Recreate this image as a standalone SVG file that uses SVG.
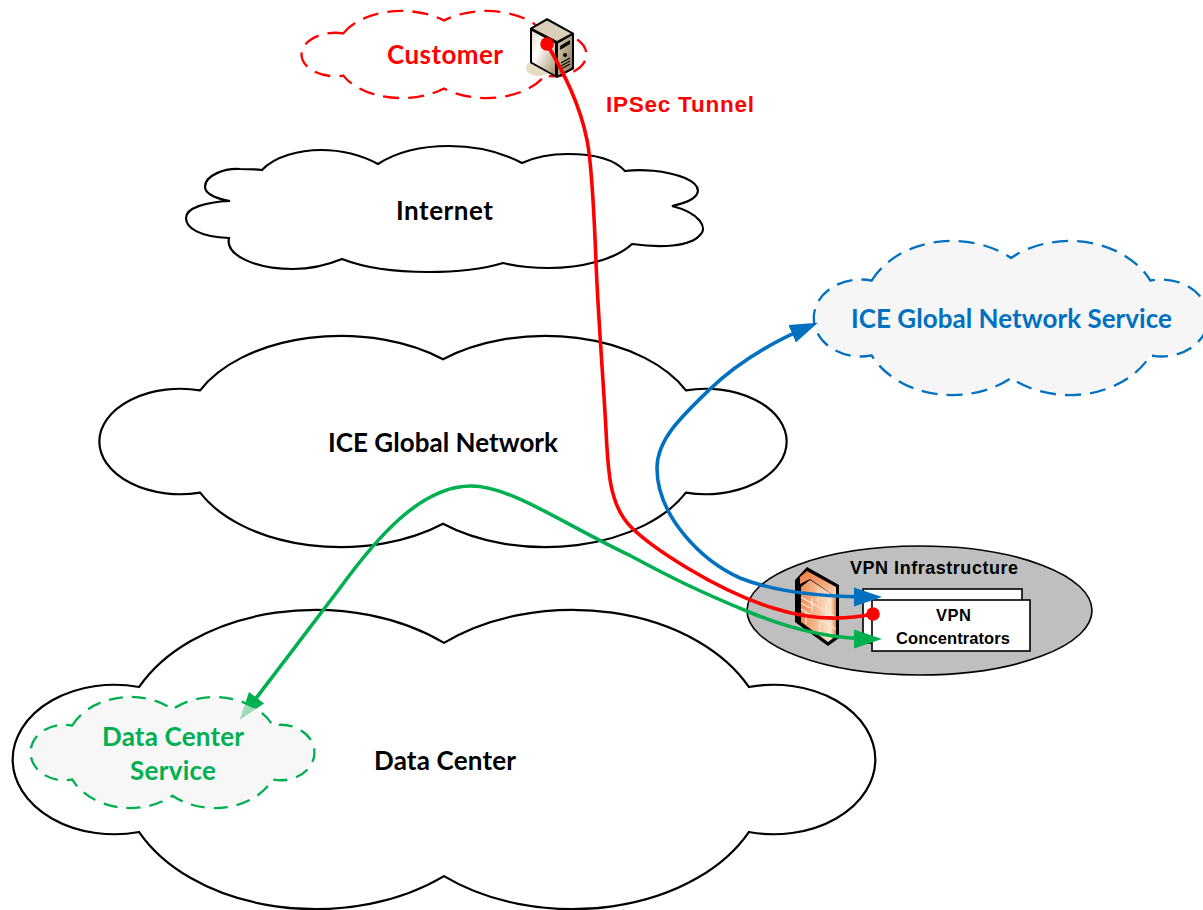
<svg xmlns="http://www.w3.org/2000/svg" xmlns:xlink="http://www.w3.org/1999/xlink" width="1203" height="910" viewBox="0 0 1203 910">
<style>
.shape{vector-effect:non-scaling-stroke;stroke-linejoin:miter}
.solid{fill:#fff;stroke:#000;stroke-width:2.2}
.t{font-family:"Lato","Carlito","Liberation Sans",sans-serif;font-weight:700;text-anchor:middle;font-size:26px}
.a{font-family:"Liberation Sans",Arial,sans-serif;font-weight:700;text-anchor:middle}
.cn{fill:none;stroke-width:3.6}
.box{fill:#fff;stroke:#000;stroke-width:1.6}
</style>
<defs>
<path id="cloud" class="shape" d="M-.704 -.485A.451 .9 0 0 1 0 -.78A.451 .9 0 0 1 .704 -.485A.235 .5 0 1 1 .704 .485A.451 .9 0 0 1 0 .78A.451 .9 0 0 1 -.704 .485A.235 .5 0 1 1 -.704 -.485Z"/>
<marker id="hb" markerUnits="userSpaceOnUse" markerWidth="28" markerHeight="20" viewBox="0 0 28 20" refX="18" refY="10" orient="auto-start-reverse"><path d="M0 0.5L28 10L0 19.5Z" fill="#0070c0"/></marker>
<marker id="hg" markerUnits="userSpaceOnUse" markerWidth="28" markerHeight="20" viewBox="0 0 28 20" refX="18" refY="10" orient="auto-start-reverse"><path d="M0 0.5L28 10L0 19.5Z" fill="#00b050"/></marker>
<marker id="dr" markerUnits="userSpaceOnUse" markerWidth="14" markerHeight="14" viewBox="0 0 14 14" refX="7" refY="7"><circle cx="7" cy="7" r="6.8" fill="#f00"/></marker>
<linearGradient id="brick" x1="0" y1="0" x2="1" y2="0"><stop offset="0" stop-color="#f08a55"/><stop offset=".55" stop-color="#f7c7a4"/><stop offset=".85" stop-color="#f9e6d0"/><stop offset="1" stop-color="#ee7d45"/></linearGradient>
<linearGradient id="cap" x1="0" y1="0" x2="1" y2="1"><stop offset="0" stop-color="#ef7a42"/><stop offset=".6" stop-color="#f7a87c"/><stop offset="1" stop-color="#fbdcc4"/></linearGradient>
<linearGradient id="face" x1="0" y1="0" x2="1" y2="1"><stop offset="0" stop-color="#e6dcc6"/><stop offset=".35" stop-color="#fff"/><stop offset="1" stop-color="#a8926e"/></linearGradient>
<linearGradient id="side" x1="0" y1="0" x2="1" y2="1"><stop offset="0" stop-color="#d8ccb2"/><stop offset="1" stop-color="#8d7a58"/></linearGradient>
</defs>
<rect width="1203" height="910" fill="#fff"/>

<g id="internet"><path class="solid" d="M262 170C275 156 300 150 321 150C345 150 365 157 378 164C395 153 420 146 449 146C480 146 505 154 522 163C535 157 550 154 568 154C595 154 615 160 625 171C640 169 665 170 685 178C703 186 705 199 672 206C700 213 708 228 700 235C690 247 660 248 632 244C615 260 580 268 549 268C530 268 515 266 503 263C480 270 455 272 428 272C395 272 365 268 342 259C325 266 310 269 293 269C255 269 225 255 229 238C200 237 186 228 186 218C186 208 205 202 230 201C212 198 205 192 205 187C205 175 225 168 240 169C248 169 255 169 262 170Z"/><text class="t" x="444.500" y="220" textLength="97">Internet</text></g>

<g id="ice-global-network"><use xlink:href="#cloud" href="#cloud" class="solid" transform="translate(443 441.500) scale(345 105.500)"/><text class="t" x="443" y="452" textLength="230">ICE Global Network</text></g>

<g id="data-center"><use xlink:href="#cloud" href="#cloud" class="solid" transform="translate(444 759.500) scale(433 149.500)"/><text class="t" x="445" y="770" textLength="142">Data Center</text></g>

<g id="customer"><use xlink:href="#cloud" href="#cloud" fill="#fff" stroke="#f00" stroke-width="2.300" stroke-dasharray="16 9" transform="translate(444 54.500) scale(143 43.500)"/><text class="t" x="445" y="64" fill="#f00" textLength="116">Customer</text></g>

<g id="ice-global-network-service"><use xlink:href="#cloud" href="#cloud" fill="#f6f6f6" stroke="#0070c0" stroke-width="2.300" stroke-dasharray="16 9" transform="translate(1011 318) scale(198 77)"/><text class="t" x="1011.500" y="328" fill="#0070c0" textLength="321">ICE Global Network Service</text></g>

<g id="vpn-infrastructure">
<ellipse cx="919.500" cy="610.500" rx="172.500" ry="64.500" fill="#bfbfbf" stroke="#000" stroke-width="1.600"/>
<text class="a" x="934" y="574" font-size="18" textLength="168">VPN Infrastructure</text>
</g>

<g id="firewall">
<path d="M807 567L839 585V638L828 646L795 622V580Z" fill="#000"/>
<path d="M807 571L836 587V597L810 579L800 584V577Z" fill="url(#cap)"/>
<path d="M801 587L810 580L836 597V636L828 642L801 622Z" fill="url(#brick)"/>
<path d="M801 597L836 617M801 609L836 629M801 603L810 608M818 590V602M812 598V612M826 605V620M806 612V624M820 622V636" fill="none" stroke="#fbe6d2" stroke-width="1.400"/>
</g>

<g id="vpn-concentrators">
<rect class="box" x="863" y="589" width="159" height="54"/>
<rect class="box" x="872" y="600" width="158" height="51"/>
<text class="a" x="953.500" y="621" font-size="16.500" textLength="35">VPN</text>
<text class="a" x="953" y="644" font-size="16.500" textLength="114">Concentrators</text>
</g>

<g id="server">
<ellipse cx="539" cy="68" rx="13" ry="8" fill="#e6dcc3"/>
<path d="M547 18L574 33V69L557 78L530 63V28Z" fill="#000"/>
<path d="M547 20.500L571 33.500L557 41L533 28.500Z" fill="#d9ceb8"/>
<path d="M532 31L555 43.500V75L532 62Z" fill="url(#face)"/>
<path d="M558 43.500L572 35.500V67.500L558 75.500Z" fill="url(#side)"/>
<path d="M560 49L570 43M560 47L570 41" stroke="#000" stroke-width="1.500" fill="none"/>
<circle cx="565" cy="55" r="2" fill="#000"/>
<path d="M561 66L570 61M561 69L570 64M561 63L570 58" stroke="#000" stroke-width="1.300" fill="none"/>
</g>

<g id="connectors">
<path class="cn" stroke="#f00" marker-start="url(#dr)" marker-end="url(#dr)" d="M547 44C565 75 580 105 587 140C591 160 594 210 596 262C598 315 604 390 606 430C608 470 609 505 631 527C651 547 715 590 773 608C810 620 845 620 873 614"/>
<path class="cn" stroke="#0070c0" marker-start="url(#hb)" marker-end="url(#hb)" d="M872 597C825 597 775 592 740 578C700 560 657 515 657 468C657 440 680 418 709 390C735 365 770 343 808.700 326.700"/>
<path class="cn" stroke="#00b050" marker-start="url(#hg)" marker-end="url(#hg)" d="M245.700 712L340 588C375 540 420 486 471 486C510 486 560 522 629 555C670 577 700 592 749 612C785 627 825 639 872 639"/>
</g>

<g id="data-center-service"><use xlink:href="#cloud" href="#cloud" fill="#f3f3f3" fill-opacity=".65" stroke="#00b050" stroke-width="2.300" stroke-dasharray="14 9" transform="translate(172.500 752.500) scale(142.500 55.500)"/><text class="t" x="173" y="746" fill="#00b050" textLength="142">Data Center</text><text class="t" x="173" y="780" fill="#00b050" textLength="86">Service</text></g>

<g id="ipsec-label"><text class="a" x="680" y="112" font-size="22.500" fill="#f00" textLength="148">IPSec Tunnel</text></g>
</svg>
